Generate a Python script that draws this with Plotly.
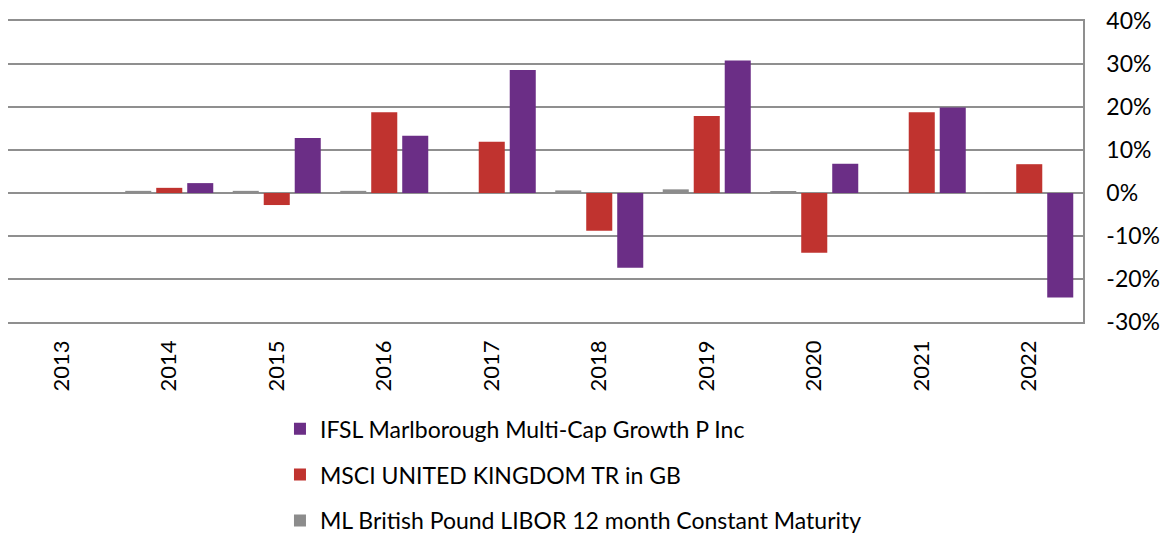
import plotly.graph_objects as go

years = ["2013", "2014", "2015", "2016", "2017", "2018", "2019", "2020", "2021", "2022"]
libor = [None, 0.005, 0.005, 0.005, 0.002, 0.006, 0.0085, 0.004, 0.0005, 0.001]
msci = [None, 0.012, -0.028, 0.188, 0.119, -0.088, 0.179, -0.139, 0.188, 0.067]
ifsl = [None, 0.023, 0.128, 0.133, 0.286, -0.174, 0.308, 0.068, 0.199, -0.243]

y_tick_vals = [-0.3, -0.2, -0.1, 0.0, 0.1, 0.2, 0.3, 0.4]
y_tick_text = ["-30%", "-20%", "-10%", "0%", "10%", "20%", "30%", "40%"]

names = [
    "ML British Pound LIBOR 12 month Constant Maturity",
    "MSCI UNITED KINGDOM TR in GB",
    "IFSL Marlborough Multi-Cap Growth P Inc",
]
colors = ["#8c8c8c", "#c0332f", "#6b2e86"]
ranks = [3, 2, 1]
series = [libor, msci, ifsl]

font_family = "Lato, Carlito, Calibri, sans-serif"
grid_col = "#8f8f8f"

fig = go.Figure()
for name, vals, col, rk in zip(names, series, colors, ranks):
    fig.add_trace(go.Bar(
        x=years, y=vals, name=name, legendgroup=name, legendrank=rk,
        marker=dict(color=col, line=dict(width=0)),
    ))

fig.update_layout(
    width=1165, height=536,
    margin=dict(l=8, r=82, t=21, b=214, autoexpand=False),
    paper_bgcolor="white", plot_bgcolor="white",
    barmode="group", bargap=0.135, bargroupgap=0.16,
    font=dict(family=font_family, size=22, color="#000000"),
    showlegend=True,
    legend=dict(
        orientation="v", traceorder="grouped", tracegroupgap=13,
        x=0.253, y=-0.283, xanchor="left", yanchor="top",
        font=dict(family=font_family, size=23, color="#000000"),
        itemwidth=30, bgcolor="rgba(0,0,0,0)",
    ),
    xaxis=dict(
        type="category", tickangle=-90, showgrid=False,
        showline=True, mirror=True, linecolor=grid_col, linewidth=1.5,
        ticks="", tickfont=dict(size=22, family=font_family),
        zeroline=False, ticklabelstandoff=8,
    ),
    yaxis=dict(
        side="right", range=[-0.3, 0.4],
        tickmode="array", tickvals=y_tick_vals, ticktext=y_tick_text,
        showgrid=True, gridcolor=grid_col, gridwidth=1.5,
        zeroline=True, zerolinecolor=grid_col, zerolinewidth=1.5,
        showline=True, linecolor=grid_col, linewidth=1.5,
        ticks="", ticklabelstandoff=17, ticklabeloverflow="allow",
        tickfont=dict(size=23, family=font_family),
    ),
)

fig.write_html(
    "out.html",
    config={"displayModeBar": False},
    post_script="document.body.style.margin='0';",
)
